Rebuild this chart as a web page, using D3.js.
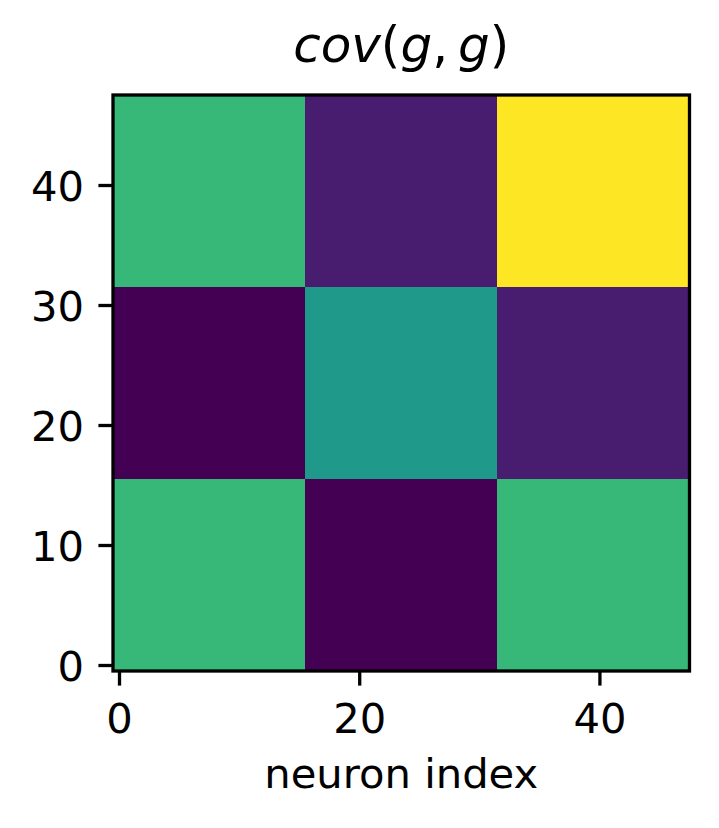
<!DOCTYPE html>
<html><head><meta charset="utf-8">
<script src="https://cdn.jsdelivr.net/npm/d3@7"></script>
<style>body{margin:0;background:#fff}svg{display:block}</style>
</head><body>
<script>
// 3x3 block covariance values (rows from bottom to top, origin lower), normalized for viridis
const blockRows = [0, 1, 2];
const blockCols = [0, 1, 2];
const blockSize = 16;
const nNeurons = 48;
const blockValues = [
  [0.67, 0.00, 0.67],   // neurons 0-15
  [0.00, 0.54, 0.08],   // neurons 16-31
  [0.67, 0.08, 1.00]    // neurons 32-47
];
const xTicks = [0, 20, 40];
const yTicks = [0, 10, 20, 30, 40];
const xLabel = "neuron index";

const W = 719, H = 828;
const m = {left: 113, right: 689.5, top: 95, bottom: 671};
const svg = d3.select("body").append("svg").attr("width", W).attr("height", H);

const x = d3.scaleLinear().domain([-0.5, nNeurons - 0.5]).range([m.left, m.right]);
const y = d3.scaleLinear().domain([-0.5, nNeurons - 0.5]).range([m.bottom, m.top]);
const color = d3.scaleSequential(d3.interpolateViridis).domain([0, 1]);

const cells = [];
blockRows.forEach(r => blockCols.forEach(c => cells.push({r, c, v: blockValues[r][c]})));

svg.append("g").selectAll("rect").data(cells).join("rect")
  .attr("x", d => x(d.c * blockSize - 0.5))
  .attr("y", d => y((d.r + 1) * blockSize - 0.5))
  .attr("width", d => x((d.c + 1) * blockSize - 0.5) - x(d.c * blockSize - 0.5))
  .attr("height", d => y(d.r * blockSize - 0.5) - y((d.r + 1) * blockSize - 0.5))
  .attr("fill", d => color(d.v))
  .attr("shape-rendering", "crispEdges");

const font = "'DejaVu Sans', sans-serif";
const fs = 41.7;

// x axis
const xAxis = d3.axisBottom(x).tickValues(xTicks).tickSize(14.6).tickPadding(14.6).tickFormat(d3.format("d"));
const gx = svg.append("g").attr("transform", `translate(0,${m.bottom})`).call(xAxis);
gx.select(".domain").remove();
gx.selectAll("line").attr("stroke", "#000").attr("stroke-width", 3.3);
gx.selectAll("text").attr("font-family", font).attr("font-size", fs).attr("fill", "#000")
  .attr("dy", null).attr("y", 62).attr("dominant-baseline", "alphabetic");

// y axis
const yAxis = d3.axisLeft(y).tickValues(yTicks).tickSize(14.6).tickPadding(14.6).tickFormat(d3.format("d"));
const gy = svg.append("g").attr("transform", `translate(${m.left},0)`).call(yAxis);
gy.select(".domain").remove();
gy.selectAll("line").attr("stroke", "#000").attr("stroke-width", 3.3);
gy.selectAll("text").attr("font-family", font).attr("font-size", fs).attr("fill", "#000")
  .attr("dy", null).attr("x", -29).attr("y", 15.2).attr("dominant-baseline", "alphabetic");

// frame
svg.append("rect").attr("x", m.left).attr("y", m.top)
  .attr("width", m.right - m.left).attr("height", m.bottom - m.top)
  .attr("fill", "none").attr("stroke", "#000").attr("stroke-width", 3.3);

// x label
svg.append("text").attr("x", (m.left + m.right) / 2).attr("y", 788)
  .attr("text-anchor", "middle").attr("font-family", font).attr("font-size", fs).attr("fill", "#000")
  .text(xLabel);

// title (mathtext style)
const t = svg.append("text").attr("x", (m.left + m.right) / 2).attr("y", 62)
  .attr("text-anchor", "middle").attr("font-family", font).attr("font-size", 50).attr("fill", "#000");
const parts = [["cov", true], ["(", false], ["g", true], [",", false], ["\u2009", false], ["g", true], [")", false]];
parts.forEach(([s, it]) => t.append("tspan").attr("font-style", it ? "italic" : "normal").text(s));
</script>
</body></html>
